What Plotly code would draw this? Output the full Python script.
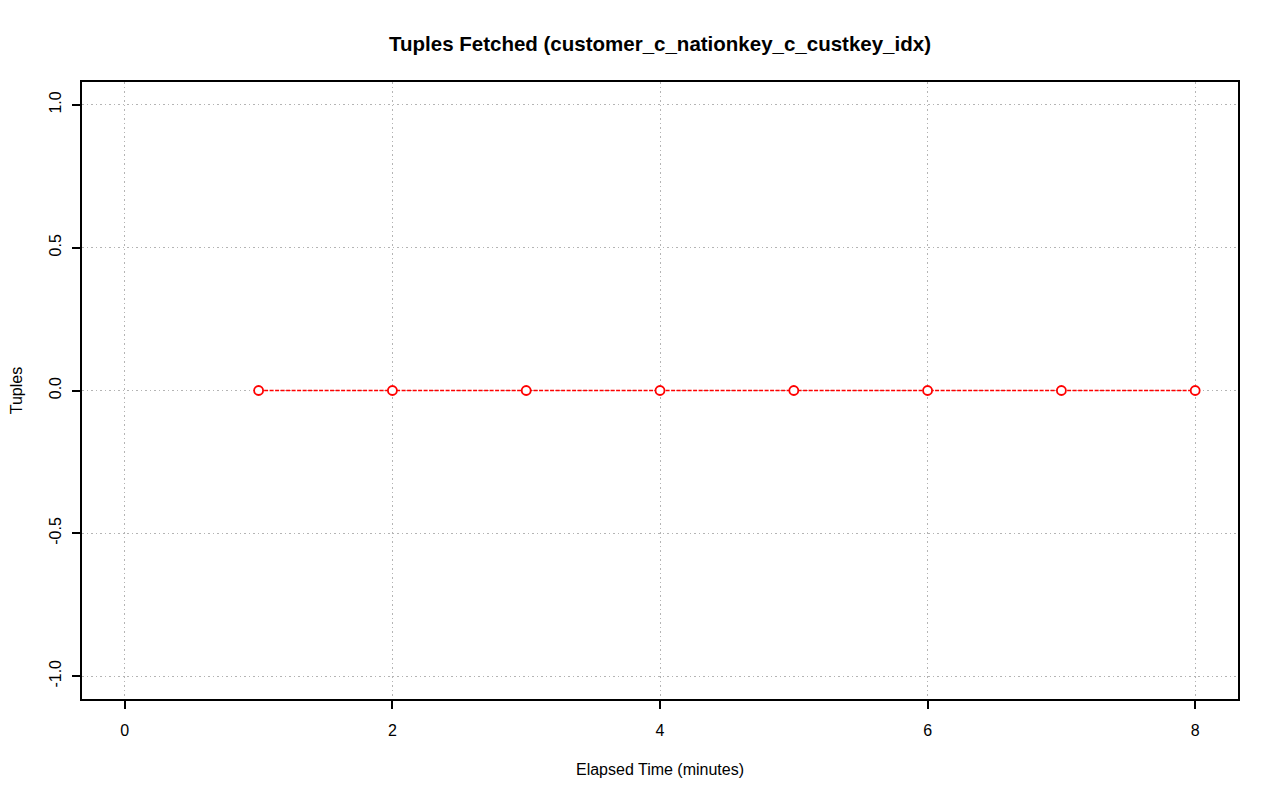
import plotly.graph_objects as go

minutes = [1, 2, 3, 4, 5, 6, 7, 8]
tuples = [0, 0, 0, 0, 0, 0, 0, 0]

x_ticks = [0, 2, 4, 6, 8]
y_ticks = [-1.0, -0.5, 0.0, 0.5, 1.0]
y_labels = ["-1.0", "-0.5", "0.0", "0.5", "1.0"]

fig = go.Figure()
fig.add_trace(go.Scatter(
    x=minutes,
    y=tuples,
    mode="lines+markers",
    line=dict(color="red", width=1.5, dash="4px,1.5px"),
    marker=dict(symbol="circle", size=9, color="white",
                line=dict(color="red", width=1.8)),
    showlegend=False
))

# page body has an 8px margin, so the margins are shifted to compensate
fig.update_layout(
    width=1280, height=801,
    paper_bgcolor="white", plot_bgcolor="white",
    margin=dict(l=74, r=50, t=74, b=110),
    font=dict(family="Liberation Sans, Arial, sans-serif", size=16, color="black"),
    title=dict(text="<b>Tuples Fetched (customer_c_nationkey_c_custkey_idx)</b>",
               xref="paper", x=0.5, xanchor="center", y=0.955, yanchor="middle",
               font=dict(size=20.5)),
)

fig.update_xaxes(
    range=[-0.32, 8.32], tickvals=x_ticks, ticktext=[str(v) for v in x_ticks],
    showgrid=True, gridcolor="#b4b4b4", griddash="1.5px,3px", gridwidth=1.4,
    zeroline=False, showline=True, linecolor="black", linewidth=1.5, mirror=True,
    ticks="outside", ticklen=8, tickcolor="black", tickwidth=1.5,
    ticklabelstandoff=8, automargin=False,
    title=dict(text="Elapsed Time (minutes)", standoff=26, font=dict(size=16)),
    tickfont=dict(size=16),
)
fig.update_yaxes(
    range=[-1.08, 1.08], tickvals=y_ticks, ticktext=y_labels, tickangle=-90,
    showgrid=True, gridcolor="#b4b4b4", griddash="1.5px,3px", gridwidth=1.4,
    zeroline=False, showline=True, linecolor="black", linewidth=1.5, mirror=True,
    ticks="outside", ticklen=8, tickcolor="black", tickwidth=1.5,
    ticklabelstandoff=5, automargin=False,
    title=dict(text="Tuples", standoff=23, font=dict(size=16)),
    tickfont=dict(size=16),
)

fig.write_html("out.html")
